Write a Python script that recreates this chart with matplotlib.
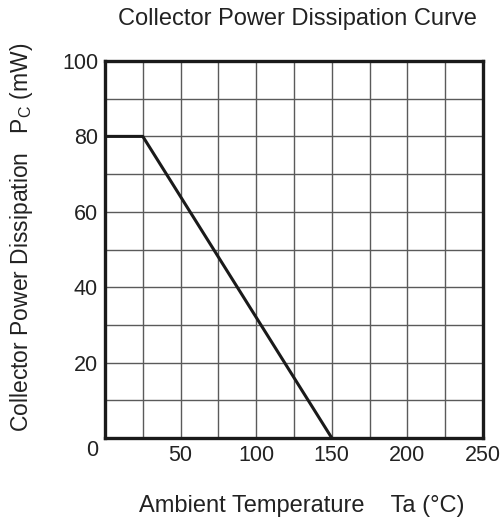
import matplotlib.pyplot as plt
import numpy as np

plt.rcParams['font.family'] = ['Liberation Sans', 'DejaVu Sans']

# derating curve
temp = [0, 25, 150]
power = [80, 80, 0]

x_ticks = [50, 100, 150, 200, 250]
y_ticks = [20, 40, 60, 80, 100]

fig = plt.figure(figsize=(5.01, 5.27), dpi=100)
ax = fig.add_axes([105 / 501, 1 - 438 / 527, 378 / 501, 377 / 527])

ax.set_xlim(0, 250)
ax.set_ylim(0, 100)
ax.set_xticks(np.arange(0, 251, 25), minor=True)
ax.set_yticks(np.arange(0, 101, 10), minor=True)
ax.set_xticks(x_ticks)
ax.set_yticks(y_ticks)
ax.grid(True, which='both', color='#5a5a5a', linewidth=1)
ax.tick_params(which='both', length=0, labelsize=15.5, colors='#222222', pad=5)

ax.plot(temp, power, color='#1a1a1a', linewidth=2.2, solid_capstyle='butt')

for s in ax.spines.values():
    s.set_linewidth(2.4)
    s.set_color('#1a1a1a')

ax.text(98 / 501, 1 - 450 / 527, '0', transform=fig.transFigure, fontsize=15.5,
        color='#222222', ha='right', va='center')

fig.text(297 / 501, 1 - 19 / 527, 'Collector Power Dissipation Curve',
         fontsize=17, color='#222222', ha='center', va='center')
fig.text(302 / 501, 1 - 506 / 527, 'Ambient Temperature    Ta (°C)',
         fontsize=17, color='#222222', ha='center', va='center')
fig.text(22 / 501, 1 - 237 / 527, r'Collector Power Dissipation   P$_\mathregular{C}$ (mW)',
         fontsize=16.5, color='#222222', ha='center', va='center', rotation=90)

fig.savefig('out.png', dpi=100)
